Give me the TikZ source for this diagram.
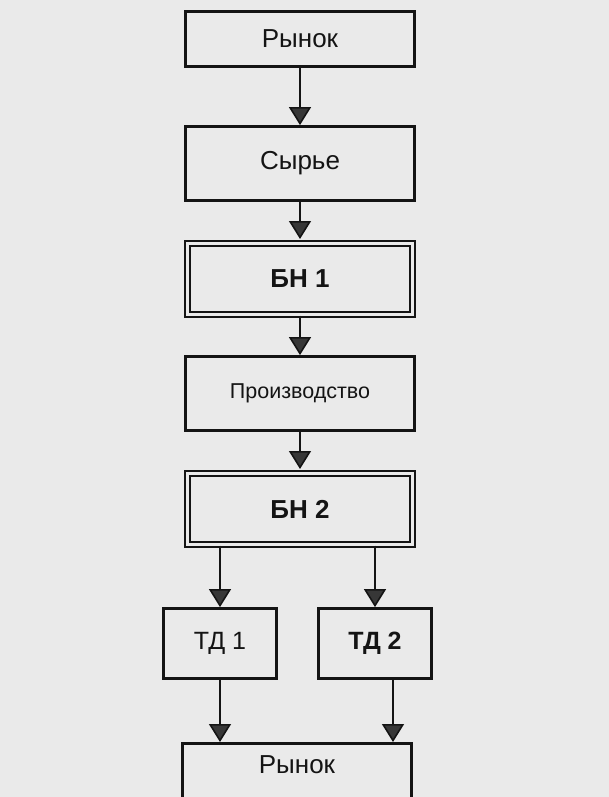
\documentclass[tikz,border=0pt]{standalone}
\usepackage{fontspec}
\setmainfont{Liberation Sans}
\usepackage{xcolor}
\definecolor{paper}{RGB}{234,234,234}
\definecolor{ink}{RGB}{20,20,20}
\definecolor{tipgray}{RGB}{55,55,55}
\usetikzlibrary{positioning,arrows.meta}
\begin{document}
\begin{tikzpicture}[x=1pt, y=-1pt, font=\fontsize{26}{30}\selectfont,
  >={Triangle[width=22pt,length=18pt,fill=tipgray]},
  stage/.style={draw=ink, line width=2.8pt, text=ink, minimum width=229pt, minimum height=74pt, inner sep=0pt},
  buffer/.style={stage, line width=2pt, double=paper, double distance=3pt, minimum width=225pt, minimum height=71pt, font=\fontsize{26}{30}\selectfont\bfseries},
  shop/.style={stage, minimum width=113pt, minimum height=70pt, font=\fontsize{25}{29}\selectfont},
  flow/.style={->, draw=ink, line width=1.6pt}]
\fill[paper] (0,0) rectangle (609,797);
\useasboundingbox (0,0) rectangle (609,797);
\node[stage, minimum height=55pt] (mkt1) at (300,39) {Рынок};
\node[stage] (raw)  at (300,163.5) {Сырье};
\node[buffer] (bn1) at (300,279) {БН 1};
\node[stage, font=\fontsize{21.5}{25}\selectfont] (prod) at (300,393.5) {Производство};
\node[buffer] (bn2) at (300,509) {БН 2};
\node[shop] (td1) at (220,643.5) {ТД 1};
\node[shop, font=\fontsize{25}{29}\selectfont\bfseries] (td2) at (375,643.5) {ТД 2};
\node[stage, anchor=north, minimum height=0pt, inner ysep=11pt, text height=19pt, text depth=40pt] (mkt2) at (297,742) {Рынок};
\draw[flow] (mkt1) -- (raw);
\draw[flow, shorten >=3.5pt] (raw) -- (bn1);
\draw[flow] (bn1) -- (prod);
\draw[flow, shorten >=3.5pt] (prod) -- (bn2);
\draw[flow] (bn2.south -| td1.north) -- (td1.north);
\draw[flow] (bn2.south -| td2.north) -- (td2.north);
\draw[flow] (td1.south) -- (td1.south |- mkt2.north);
\draw[flow] ([xshift=18pt]td2.south) -- ([xshift=18pt]td2.south |- mkt2.north);
\end{tikzpicture}
\end{document}
